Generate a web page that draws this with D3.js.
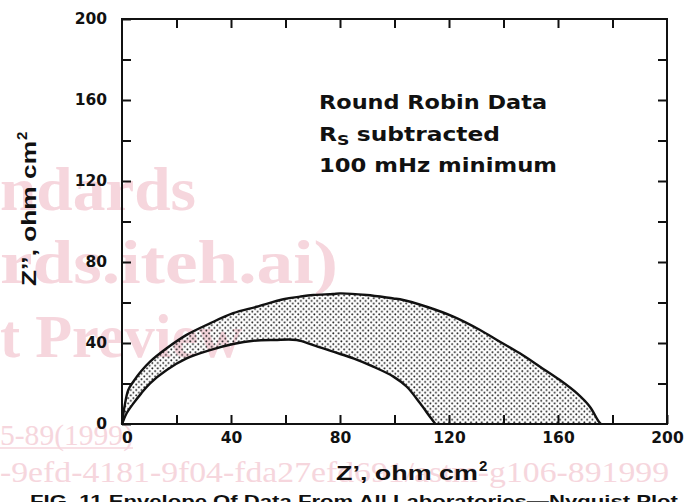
<!DOCTYPE html>
<html><head><meta charset="utf-8">
<script src="https://cdn.jsdelivr.net/npm/d3@7"></script>
<style>
html,body{margin:0;padding:0;background:#fff;}
svg{display:block;}
</style></head>
<body>
<svg id="chart" width="690" height="502"></svg>
<script>
// ---- data ----
const xTickValues = [0,20,40,60,80,100,120,140,160,180,200];
const yTickValues = [0,20,40,60,80,100,120,140,160,180,200];
const xTickLabels = [0,40,80,120,160,200];
const yTickLabels = [0,40,80,120,160,200];

// outer boundary of the data envelope (Z', Z'')
const outerZr = [0,0.4,0.9,2.3,4.2,7,10.3,16.4,23.7,32.3,40.8,49.4,59.2,65.3,70.2,77.5,80,89.8,99.6,102,111.8,121.6,131.4,138.7,146,153.4,160.7,166.9,171.7,174.8,175.8];
const outerZi = [0,4,8.5,16.8,21,26,30.8,37.4,44,49.7,54.7,57.9,61.6,62.9,63.7,64.2,64.5,63.7,62,61.6,57.9,53,46.4,40.6,34.9,28.3,21.7,15.2,8.5,1.5,0];
// inner boundary of the data envelope
const innerZr = [0,0.6,1.7,4.2,7,10.3,16.4,23.7,32.3,40.8,48.2,56,64.1,70.2,77.5,84.9,92.2,99.6,104.5,109.4,113,115];
const innerZi = [0,2,5.3,10.2,15,20.1,26.7,32.4,36.5,39.5,41.1,41.5,41.5,39,35.7,32.4,28.3,23.4,18.4,10.2,3.6,0];

const noteLines = ["Round Robin Data", "subtracted", "100 mHz minimum"];
const xTitle = "Z’, ohm cm";
const yTitle = "Z’’, ohm cm";
const caption = "FIG. 11 Envelope Of Data From All Laboratories—Nyquist Plot";
const watermarkTexts = ["ndards", "rds.iteh.ai)", "t Preview", "5-89(1999)", "-9efd-4181-9f04-fda27efd691/astm-g106-891999"];

// ---- drawing ----
const svg = d3.select("#chart");
const x = d3.scaleLinear().domain([0,200]).range([122,667]);
const y = d3.scaleLinear().domain([0,200]).range([424,19]);

// watermark (layout only)
const wmLayout = [
  {x:0, y:210, s:62, w:196, b:true},
  {x:0, y:283, s:62, w:338, b:true},
  {x:0, y:357, s:62, w:242, b:true},
  {x:0, y:445, s:29, w:133, b:false},
  {x:0, y:482, s:29, w:669, b:false}
];
const wmColor = "#f6d6dd";
const wm = svg.append("g").attr("fill",wmColor)
  .style("font-family","'Liberation Serif','DejaVu Serif',serif");
watermarkTexts.forEach((t,i)=>{
  const L = wmLayout[i];
  wm.append("text").attr("x",L.x).attr("y",L.y).attr("textLength",L.w).attr("lengthAdjust","spacingAndGlyphs")
    .style("font-size",L.s+"px").style("font-weight", L.b?"bold":"normal").text(t);
});
wm.append("line").attr("x1",0).attr("x2",133).attr("y1",448).attr("y2",448)
  .attr("stroke",wmColor).attr("stroke-width",1.5);

// pattern
const defs = svg.append("defs");
const pat = defs.append("pattern").attr("id","dots").attr("patternUnits","userSpaceOnUse")
  .attr("width",5.4).attr("height",5.4);
pat.append("circle").attr("cx",1.2).attr("cy",1.2).attr("r",0.95).attr("fill","#1a1a1a");
pat.append("circle").attr("cx",3.9).attr("cy",3.9).attr("r",0.95).attr("fill","#1a1a1a");

const outer = outerZr.map((v,i)=>[v,outerZi[i]]);
const inner = innerZr.map((v,i)=>[v,innerZi[i]]);
const line = d3.line().x(d=>x(d[0])).y(d=>y(d[1])).curve(d3.curveCatmullRom);

// envelope fill: outer forward + inner reversed
const outerPath = line(outer);
const innerRevPath = line(inner.slice().reverse());
svg.append("path").attr("d", outerPath + "L" + innerRevPath.slice(1) + "Z")
  .attr("fill","url(#dots)").attr("stroke","none");
svg.append("path").attr("d", outerPath).attr("fill","none").attr("stroke","#111").attr("stroke-width",2.4);
svg.append("path").attr("d", line(inner)).attr("fill","none").attr("stroke","#111").attr("stroke-width",2.4);

// axes
const tickFont = "'DejaVu Sans',sans-serif";
const fmtX = d => xTickLabels.includes(d) ? d : "";
const fmtY = d => yTickLabels.includes(d) ? d : "";
const gB = svg.append("g").attr("transform","translate(0,424)")
  .call(d3.axisBottom(x).tickValues(xTickValues).tickSizeInner(-9).tickSizeOuter(0).tickPadding(8).tickFormat(fmtX));
const gL = svg.append("g").attr("transform","translate(122,0)")
  .call(d3.axisLeft(y).tickValues(yTickValues).tickSizeInner(-9).tickSizeOuter(0).tickPadding(15).tickFormat(fmtY));
const gT = svg.append("g").attr("transform","translate(0,19)")
  .call(d3.axisTop(x).tickValues(xTickValues.slice(1,-1)).tickSizeInner(-9).tickSizeOuter(0).tickFormat(""));
const gR = svg.append("g").attr("transform","translate(667,0)")
  .call(d3.axisRight(y).tickValues(yTickValues.slice(1,-1)).tickSizeInner(-9).tickSizeOuter(0).tickFormat(""));
[gB,gL,gT,gR].forEach(g=>{
  g.select(".domain").remove();
  g.selectAll(".tick line").attr("stroke","#111").attr("stroke-width",2);
  g.selectAll("text").attr("fill","#111").style("font-family",tickFont).style("font-size","15.5px").style("font-weight","bold");
});
gB.selectAll(".tick").filter(d=>d===0).select("text").attr("dx",5);

// frame
svg.append("rect").attr("x",x(0)).attr("y",y(200)).attr("width",x(200)-x(0)).attr("height",y(0)-y(200))
  .attr("fill","none").attr("stroke","#111").attr("stroke-width",2);

// annotation
const noteFont = "'DejaVu Sans',sans-serif";
svg.append("text").attr("x",319).attr("y",109).attr("textLength",228).attr("lengthAdjust","spacingAndGlyphs")
  .style("font-family",noteFont).style("font-weight","bold").style("font-size","19px").attr("fill","#111").text(noteLines[0]);
const n2 = svg.append("text").attr("x",319).attr("y",141)
  .style("font-family",noteFont).style("font-weight","bold").style("font-size","19px").attr("fill","#111");
n2.append("tspan").text("R");
n2.append("tspan").attr("dy",4).style("font-size","14px").text("S");
n2.append("tspan").attr("dy",-4).attr("dx",6).text(noteLines[1]);
n2.attr("textLength",181).attr("lengthAdjust","spacingAndGlyphs");
svg.append("text").attr("x",319).attr("y",172).attr("textLength",238).attr("lengthAdjust","spacingAndGlyphs")
  .style("font-family",noteFont).style("font-weight","bold").style("font-size","19px").attr("fill","#111").text(noteLines[2]);

// axis titles
const titleFont = "'Liberation Sans','Arial',sans-serif";
const xt = svg.append("text").attr("x",336).attr("y",480)
  .style("font-family",titleFont).style("font-weight","bold").style("font-size","21px").attr("fill","#111");
xt.append("tspan").attr("textLength",142).attr("lengthAdjust","spacingAndGlyphs").text(xTitle);
xt.append("tspan").attr("dy",-9).attr("dx",1).style("font-size","15px").text("2");

const yt = svg.append("text").attr("transform","translate(36,286) rotate(-90)")
  .style("font-family",titleFont).style("font-weight","bold").style("font-size","21px").attr("fill","#111");
yt.append("tspan").attr("textLength",145).attr("lengthAdjust","spacingAndGlyphs").text(yTitle);
yt.append("tspan").attr("dy",-9).attr("dx",1).style("font-size","15px").text("2");

// caption (cut at the bottom edge)
svg.append("text").attr("x",30).attr("y",507).attr("textLength",648).attr("lengthAdjust","spacingAndGlyphs")
  .style("font-family",titleFont).style("font-weight","bold").style("font-size","17px").attr("fill","#111").text(caption);
</script>
</body></html>
